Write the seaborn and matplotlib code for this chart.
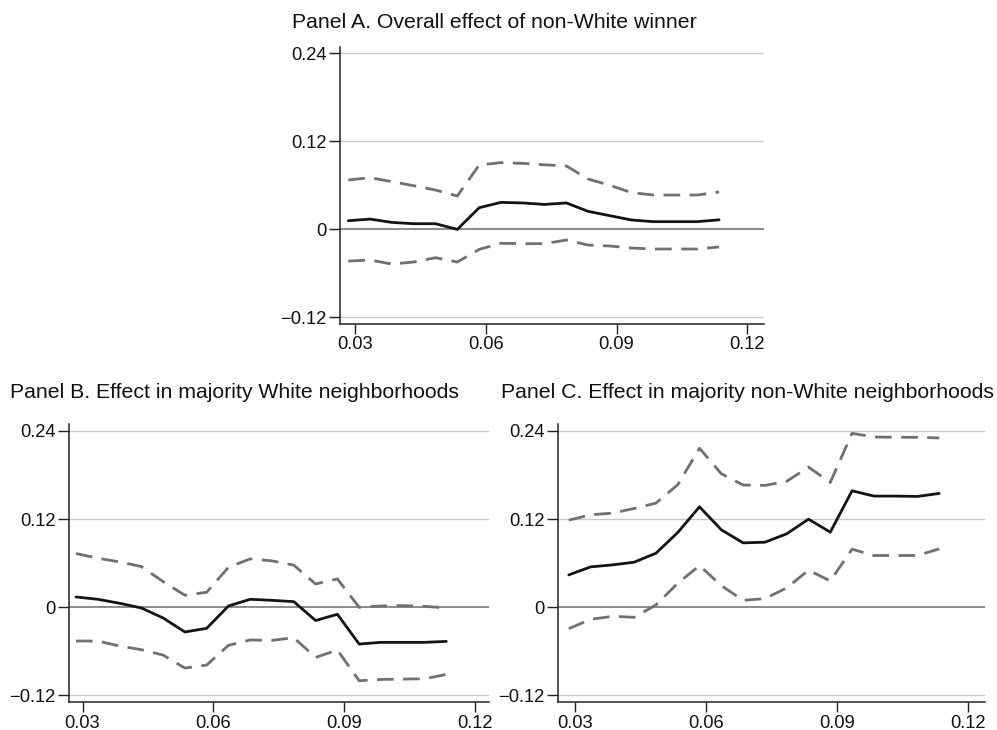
import matplotlib
matplotlib.use("Agg")
import matplotlib.pyplot as plt
import seaborn as sns
import pandas as pd
import numpy as np

# x grid (bandwidth / threshold values)
x_vals = [0.0285, 0.0335, 0.0385, 0.0435, 0.0485, 0.0535, 0.0585, 0.0635, 0.0685,
          0.0735, 0.0785, 0.0835, 0.0885, 0.0935, 0.0985, 0.1035, 0.1085, 0.1135]

# Panel A
a_est = [0.0118, 0.014, 0.0095, 0.0077, 0.0077, 0.0, 0.0295, 0.0368, 0.036,
         0.034, 0.036, 0.0245, 0.0186, 0.0127, 0.0105, 0.0105, 0.0105, 0.013]
a_hi = [0.0673, 0.0705, 0.065, 0.0595, 0.0536, 0.0455, 0.0877, 0.091, 0.09,
        0.088, 0.0864, 0.0686, 0.06, 0.05, 0.0468, 0.0468, 0.0468, 0.051]
a_lo = [-0.0432, -0.0418, -0.0473, -0.0445, -0.0386, -0.0445, -0.0273, -0.019, -0.0195,
        -0.0195, -0.0145, -0.0214, -0.0227, -0.0255, -0.0268, -0.0268, -0.0268, -0.024]

# Panel B
b_est = [0.0141, 0.0109, 0.0055, -0.0009, -0.0145, -0.0336, -0.0286, 0.0018, 0.0109,
         0.0095, 0.0077, -0.018, -0.0095, -0.05, -0.0477, -0.0477, -0.0477, -0.0464]
b_hi = [0.0732, 0.0668, 0.0618, 0.0555, 0.035, 0.0164, 0.0205, 0.0545, 0.0659,
        0.0632, 0.0573, 0.0318, 0.0386, 0.0, 0.0018, 0.0023, 0.0014, -0.0009]
b_lo = [-0.0459, -0.0459, -0.0527, -0.0577, -0.065, -0.0827, -0.0786, -0.0518, -0.0445,
        -0.045, -0.0414, -0.0682, -0.0582, -0.1, -0.0982, -0.0977, -0.0973, -0.0914]

# Panel C
c_est = [0.0441, 0.055, 0.0577, 0.0614, 0.0736, 0.1018, 0.1368, 0.1055, 0.0877,
         0.0886, 0.1, 0.12, 0.1023, 0.1586, 0.1514, 0.1514, 0.1509, 0.155]
c_hi = [0.1186, 0.1259, 0.1282, 0.1345, 0.1418, 0.1668, 0.2164, 0.1818, 0.1664,
        0.1659, 0.1714, 0.1909, 0.17, 0.2368, 0.2318, 0.2314, 0.2314, 0.2305]
c_lo = [-0.0291, -0.0164, -0.0123, -0.0136, 0.0032, 0.0327, 0.0568, 0.0295, 0.0095,
        0.0118, 0.0264, 0.0505, 0.0359, 0.0791, 0.0705, 0.0705, 0.0705, 0.0795]

titles = ["Panel A. Overall effect of non-White winner",
          "Panel B. Effect in majority White neighborhoods",
          "Panel C. Effect in majority non-White neighborhoods"]
x_ticks = [0.03, 0.06, 0.09, 0.12]
x_tick_labels = ["0.03", "0.06", "0.09", "0.12"]
y_ticks = [-0.12, 0, 0.12, 0.24]
y_tick_labels = ["\u22120.12", "0", "0.12", "0.24"]

sns.set_theme(style="white")
plt.rcParams['font.family'] = ['Liberation Sans', 'DejaVu Sans']

W, H = 997, 730
fig = plt.figure(figsize=(W / 100, H / 100), dpi=100)

def px_axes(l, r, t, b):
    return fig.add_axes([l / W, 1 - b / H, (r - l) / W, (b - t) / H])

panels = [
    dict(est=a_est, hi=a_hi, lo=a_lo, rect=(340, 764, 46.7, 324), xlim=(0.0266, 0.1238),
         ylim=(-0.129, 0.249), title=titles[0], tx=291.7, ty=28.3),
    dict(est=b_est, hi=b_hi, lo=b_lo, rect=(69, 489, 424, 702), xlim=(0.0269, 0.1233),
         ylim=(-0.1289, 0.2495), title=titles[1], tx=10, ty=397.7),
    dict(est=c_est, hi=c_hi, lo=c_lo, rect=(557.7, 985, 424, 702), xlim=(0.02596, 0.124),
         ylim=(-0.1289, 0.2495), title=titles[2], tx=501, ty=397.7),
]

grid_col = "#c8c8c8"
dash = (0, (6.0, 3.4))
for p in panels:
    ax = px_axes(*p["rect"])
    df = pd.DataFrame({"x": x_vals * 3,
                       "y": p["est"] + p["hi"] + p["lo"],
                       "series": ["est"] * 18 + ["hi"] * 18 + ["lo"] * 18})
    for g in [-0.12, 0.12, 0.24]:
        ax.axhline(g, color=grid_col, lw=1.0, zorder=0)
    ax.axhline(0, color="#6e6e6e", lw=1.1, zorder=0)
    sns.lineplot(data=df[df.series == "hi"], x="x", y="y", ax=ax, color="#707070",
                 lw=2.0, linestyle=dash, legend=False)
    sns.lineplot(data=df[df.series == "lo"], x="x", y="y", ax=ax, color="#707070",
                 lw=2.0, linestyle=dash, legend=False)
    sns.lineplot(data=df[df.series == "est"], x="x", y="y", ax=ax, color="#141414",
                 lw=2.0, legend=False)
    ax.set_xlim(*p["xlim"])
    ax.set_ylim(*p["ylim"])
    ax.set_xticks(x_ticks)
    ax.set_xticklabels(x_tick_labels)
    ax.set_yticks(y_ticks)
    ax.set_yticklabels(y_tick_labels)
    ax.set_xlabel("")
    ax.set_ylabel("")
    for s in ["top", "right"]:
        ax.spines[s].set_visible(False)
    for s in ["left", "bottom"]:
        ax.spines[s].set_color("#222222")
        ax.spines[s].set_linewidth(1.1)
    ax.tick_params(axis="y", length=8.0, width=1.0, color="#222222",
                   labelsize=13.2, labelcolor="#111111", pad=1.5, direction="out", left=True)
    ax.tick_params(axis="x", length=7.5, width=1.0, color="#222222",
                   labelsize=13.2, labelcolor="#111111", pad=1.5, direction="out", bottom=True)
    ax.set_facecolor("white")
    fig.text(p["tx"] / W, 1 - p["ty"] / H, p["title"], ha="left", va="baseline",
             fontsize=15.3, color="#111111")

fig.savefig("out.png", dpi=100, facecolor="white")
